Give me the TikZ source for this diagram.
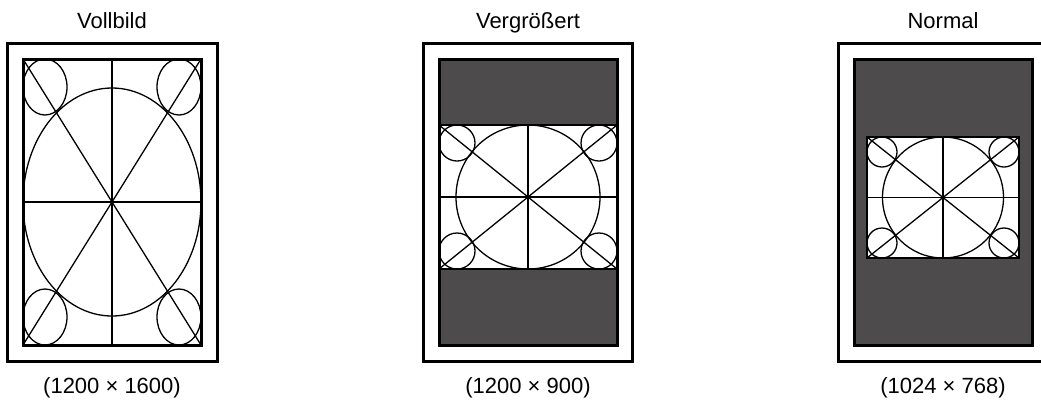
\documentclass[tikz,border=0pt]{standalone}
\usepackage{fontspec}
\setmainfont{Liberation Sans}
\definecolor{dunkel}{RGB}{77,75,76}
\begin{document}
\begin{tikzpicture}[x=1pt, y=-1pt,
			rahmen/.style={draw=black, line width=3pt},
			linie/.style={draw=black, line width=1.3pt},
			beschriftung/.style={font=\fontsize{22}{26}\selectfont, anchor=base, inner sep=0pt},
			pics/muster/.style n args={6}{code={
				\fill[white] (-#1,-#2) rectangle (#1,#2);
				\draw[linie] (-#1,-#2) rectangle (#1,#2);
				\draw[linie] (-#1,-#2) -- (#1,#2) (-#1,#2) -- (#1,-#2);
				\draw[linie] (-#1,0) -- (#1,0) (0,-#2) -- (0,#2);
				\draw[linie] (0,0) ellipse [x radius=#3, y radius=#4];
				\foreach \sx in {-1,1}
					\foreach \sy in {-1,1}
						\draw[linie] ({\sx*(#1-#5)},{\sy*(#2-#6)}) ellipse [x radius=#5, y radius=#6];
			}}
			]
			\clip (0,0) rectangle (1041,400);
			\useasboundingbox (0,0) rectangle (1041,400);
			% Vollbild
			\draw[rahmen] (7,43) rectangle (217,361);
			\path (112,202) pic {muster={89}{143}{89}{114}{22}{28}};
			\draw[rahmen] (23,59) rectangle (201,345);
			\node[beschriftung] (vollbild) at (112,28) {Vollbild};
			\node[beschriftung] (vollbildmass) at (112,393) {(1200 × 1600)};
			% Vergroessert
			\draw[rahmen] (423,43) rectangle (632,361);
			\filldraw[rahmen, fill=dunkel] (439,59) rectangle (617,345);
			\path (528,197) pic {muster={89}{72}{72}{72}{18}{18}};
			\draw[rahmen] (439,59) rectangle (617,345);
			\node[beschriftung] (vergroessert) at (528,28) {Vergrößert};
			\node[beschriftung] (vergroessertmass) at (528,393) {(1200 × 900)};
			% Normal
			\draw[rahmen] (838,43) rectangle (1048,361);
			\filldraw[rahmen, fill=dunkel] (854,59) rectangle (1032,345);
			\path (943,197.5) pic {muster={76}{60.5}{60.5}{60.5}{15}{15}};
			\node[beschriftung] (normal) at (943,28) {Normal};
			\node[beschriftung] (normalmass) at (943,393) {(1024 × 768)};
		\end{tikzpicture}
\end{document}
